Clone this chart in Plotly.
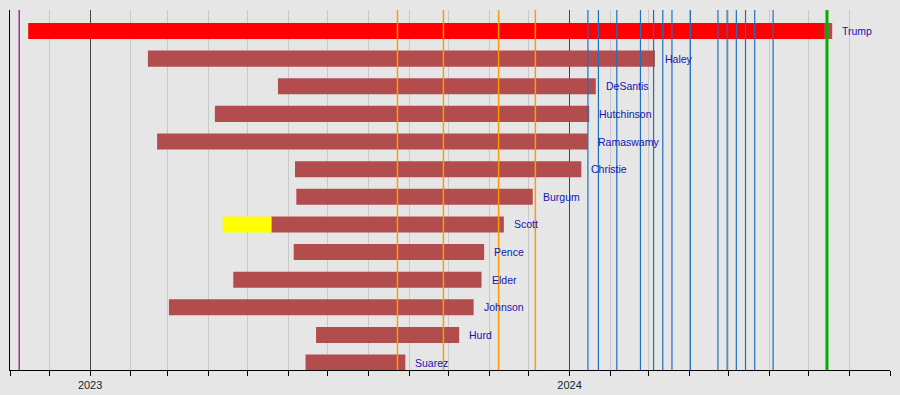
import plotly.graph_objects as go
import pandas as pd

# ---- data ----
candidates = ["Trump", "Haley", "DeSantis", "Hutchinson", "Ramaswamy", "Christie",
              "Burgum", "Scott", "Pence", "Elder", "Johnson", "Hurd", "Suarez"]
starts = ["2022-11-15", "2023-02-14", "2023-05-24", "2023-04-06", "2023-02-21", "2023-06-06",
          "2023-06-07", "2023-05-19", "2023-06-05", "2023-04-20", "2023-03-02", "2023-06-22", "2023-06-14"]
ends = ["2024-07-19", "2024-03-06", "2024-01-21", "2024-01-16", "2024-01-15", "2024-01-10",
        "2023-12-04", "2023-11-12", "2023-10-28", "2023-10-26", "2023-10-20", "2023-10-09", "2023-08-29"]

# special segments
nominee_name = "Trump"
nominee_start = "2022-11-15"
nominee_end = "2024-07-13"
exploratory_name = "Scott"
exploratory_start = "2023-04-12"
exploratory_end = "2023-05-19"

midterm_dates = ["2022-11-08"]
debate_dates = ["2023-08-23", "2023-09-27", "2023-11-08", "2023-12-06"]
primary_dates = ["2024-01-15", "2024-01-23", "2024-02-06", "2024-02-24", "2024-03-05",
                 "2024-03-12", "2024-03-19", "2024-04-02", "2024-04-23", "2024-04-30",
                 "2024-05-07", "2024-05-14", "2024-05-21", "2024-06-04"]
convention_dates = ["2024-07-15"]

# ---- styling ----
BAR = "#b34d4d"
RED = "#ff0000"
YELLOW = "#ffff00"
BG = "#e6e6e6"
LABEL = "#1414b4"

n = len(candidates)
ypos = {c: n - 1 - i for i, c in enumerate(candidates)}


def dur_ms(a, b):
    return [(pd.Timestamp(e) - pd.Timestamp(s)).total_seconds() * 1000 for s, e in zip(a, b)]


fig = go.Figure()
fig.add_trace(go.Bar(
    orientation="h", y=[ypos[c] for c in candidates], base=starts, x=dur_ms(starts, ends),
    marker=dict(color=BAR, line=dict(width=0)), width=0.58, showlegend=False, hoverinfo="skip"))
fig.add_trace(go.Bar(
    orientation="h", y=[ypos[nominee_name]], base=[nominee_start], x=dur_ms([nominee_start], [nominee_end]),
    marker=dict(color=RED, line=dict(width=0)), width=0.58, showlegend=False, hoverinfo="skip"))
fig.add_trace(go.Bar(
    orientation="h", y=[ypos[exploratory_name]], base=[exploratory_start],
    x=dur_ms([exploratory_start], [exploratory_end]),
    marker=dict(color=YELLOW, line=dict(width=0)), width=0.58, showlegend=False, hoverinfo="skip"))

for c, e in zip(candidates, ends):
    fig.add_annotation(x=e, y=ypos[c], text=c, showarrow=False, xanchor="left", yanchor="middle",
                       xshift=8, font=dict(family="Liberation Sans, Arial, sans-serif", size=10.5, color=LABEL))

def vlines(dates, color, width):
    for d in dates:
        fig.add_shape(type="line", xref="x", yref="paper", x0=d, x1=d, y0=0, y1=1,
                      line=dict(color=color, width=width), layer="above")

vlines(midterm_dates, "#8b008b", 1.2)
vlines(debate_dates, "#ff9a00", 1.5)
vlines(primary_dates, "#1f6fc0", 1.2)
vlines(convention_dates, "#00b000", 3)

fig.update_layout(
    width=900, height=395,
    margin=dict(l=10, r=10, t=10, b=25, pad=0),
    paper_bgcolor=BG, plot_bgcolor=BG,
    barmode="overlay",
    showlegend=False,
    font=dict(family="Liberation Sans, Arial, sans-serif", size=11, color="#222222"),
    xaxis=dict(
        type="date", range=["2022-11-01", "2024-09-01"], automargin=False,
        tick0="2023-01-01", dtick="M12", tickformat="%Y",
        ticks="outside", ticklen=5, tickcolor="#000000",
        showgrid=True, gridcolor="#444444", gridwidth=1,
        showline=True, linecolor="#000000", linewidth=1,
        zeroline=False,
        minor=dict(tick0="2022-11-01", dtick="M1", ticks="outside", ticklen=5, tickcolor="#000000",
                   showgrid=True, gridcolor="#c8c8c8", gridwidth=1),
        tickfont=dict(size=11, color="#222222"),
    ),
    yaxis=dict(
        range=[-0.27, n - 1 + 0.76], showticklabels=False, showgrid=False, zeroline=False,
        showline=True, linecolor="#000000", linewidth=1, ticks="", automargin=False,
    ),
)

fig.write_html(
    "out.html",
    config={"displayModeBar": False},
    post_script="document.body.style.margin='0';document.body.style.background='%s';"
                "document.body.style.overflow='hidden';" % BG,
)
